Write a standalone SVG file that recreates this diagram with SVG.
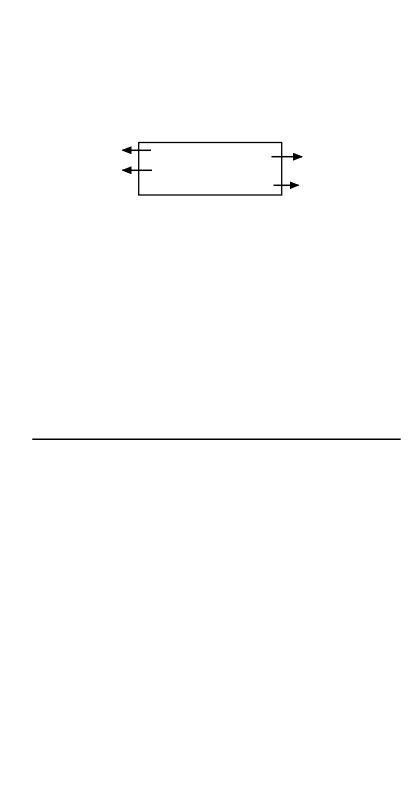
<svg xmlns="http://www.w3.org/2000/svg" width="420" height="794" viewBox="0 0 420 794">
<defs>
<style>
.ln{stroke:#000;stroke-width:1.5;fill:none}
.bx{stroke:#000;stroke-width:1.3;fill:#fff}
</style>
<marker id="ah" markerWidth="10" markerHeight="8" refX="9" refY="4" orient="auto" markerUnits="userSpaceOnUse">
<path d="M0,0 L10,4 L0,8 z" fill="#000"/>
</marker>
</defs>
<rect width="420" height="794" fill="#fff"/>
<g id="box">
<rect class="bx" x="138.7" y="142.5" width="143" height="52.5"/>
</g>
<g id="connectors">
<line class="ln" x1="151" y1="150.3" x2="122.5" y2="150.3" marker-end="url(#ah)"/>
<line class="ln" x1="152" y1="170.3" x2="122.5" y2="170.3" marker-end="url(#ah)"/>
<line class="ln" x1="271.5" y1="156.7" x2="302" y2="156.7" marker-end="url(#ah)"/>
<line class="ln" x1="273.5" y1="185.3" x2="298.5" y2="185.3" marker-end="url(#ah)"/>
</g>
<g id="rule">
<line class="ln" x1="32.3" y1="439.3" x2="400.7" y2="439.3"/>
</g>
</svg>
